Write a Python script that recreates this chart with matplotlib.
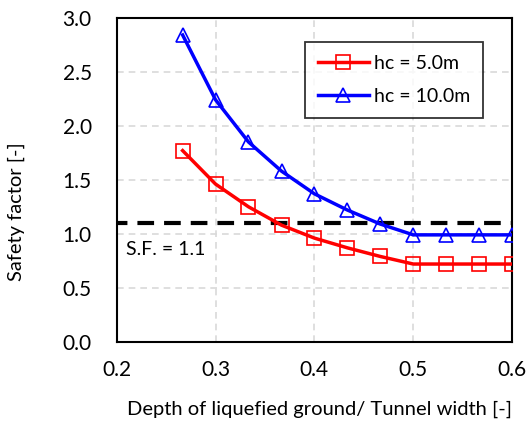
import matplotlib
matplotlib.use("Agg")
import matplotlib.pyplot as plt

plt.rcParams["font.family"] = ["Lato", "DejaVu Sans"]

depth_ratio = [0.2667, 0.3, 0.3333, 0.3667, 0.4, 0.4333, 0.4667, 0.5, 0.5333, 0.5667, 0.6]
sf_hc5 = [1.77, 1.46, 1.25, 1.08, 0.96, 0.87, 0.79, 0.72, 0.72, 0.72, 0.72]
sf_hc10 = [2.84, 2.24, 1.85, 1.58, 1.37, 1.22, 1.09, 0.99, 0.99, 0.99, 0.99]
sf_limit = 1.1

x_ticks = [0.2, 0.3, 0.4, 0.5, 0.6]
y_ticks = [0.0, 0.5, 1.0, 1.5, 2.0, 2.5, 3.0]

fig = plt.figure(figsize=(5.28, 4.22), dpi=100)
ax = fig.add_axes([0.221, 0.190, 0.749, 0.768])

ax.plot(depth_ratio, sf_hc5, color="#ff0000", linewidth=2.5, marker="s",
        markersize=10, markerfacecolor="none", markeredgewidth=1.2,
        label="hc = 5.0m", zorder=4)
ax.plot(depth_ratio, sf_hc10, color="#0000ff", linewidth=2.5, marker="^",
        markersize=10, markerfacecolor="none", markeredgewidth=1.2,
        label="hc = 10.0m", zorder=4)
ax.plot([0.2, 0.6], [sf_limit, sf_limit], color="black", linewidth=3,
        linestyle=(1.5, (4, 2.4)), zorder=3)
ax.text(0.209, 0.85, "S.F. = 1.1", fontsize=14, va="center", ha="left")

ax.set_xlim(0.2, 0.6)
ax.set_ylim(0, 3.0)
ax.set_xticks(x_ticks)
ax.set_yticks(y_ticks)
ax.set_xticklabels([f"{v:.1f}" for v in x_ticks])
ax.set_yticklabels([f"{v:.1f}" for v in y_ticks])
ax.tick_params(length=0, labelsize=15)
ax.tick_params(axis="x", pad=13)
ax.tick_params(axis="y", pad=18)
ax.grid(True, color="#d9d9d9", linestyle=(0, (4, 3)), linewidth=1.2)
ax.set_axisbelow(True)
for s in ax.spines.values():
    s.set_linewidth(1.5)
    s.set_color("black")

ax.set_xlabel("Depth of liquefied ground/ Tunnel width [-]", fontsize=14.5)
ax.set_ylabel("Safety factor [-]", fontsize=14.5)
ax.xaxis.set_label_coords(0.513, -0.18)
ax.yaxis.set_label_coords(-0.232, 0.403)

leg = ax.legend(loc="upper right", bbox_to_anchor=(0.927, 0.925), fontsize=14,
                frameon=True, fancybox=False, handlelength=2.6,
                borderpad=0.65, labelspacing=0.85, handletextpad=0.3,
                borderaxespad=0)
leg.get_frame().set_edgecolor("black")
leg.get_frame().set_linewidth(1.3)

fig.savefig("out.png", dpi=100)
